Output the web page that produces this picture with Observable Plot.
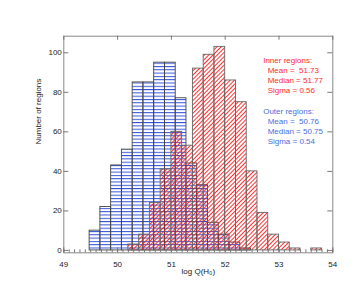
<!DOCTYPE html>
<html><head><meta charset="utf-8">
<script src="https://cdn.jsdelivr.net/npm/d3@7"></script>
<script src="https://cdn.jsdelivr.net/npm/@observablehq/plot@0.6"></script>
<style>
html,body{margin:0;padding:0;background:#fff;}
svg text{white-space:pre;}
</style></head><body><div id="chart"></div>
<script>
// ---- data ----
const binWidth = 0.2;
const outerStart = 49.48;   // first bin edge of the outer-region histogram
const innerStart = 50.2;    // first bin edge of the inner-region histogram
const outerCounts = [10, 22, 43, 51, 85, 85, 95, 95, 77, 44, 33, 14, 8, 4, 1];
const innerCounts = [3, 8, 24, 41, 60, 53, 92, 99, 103, 86, 75, 40, 19, 8, 4, 1, 0, 1];
const xTicks = [49, 50, 51, 52, 53, 54];
const xMinorTicks = d3.range(49, 54.001, 0.1).map(v => +v.toFixed(1));
const yTicks = [0, 20, 40, 60, 80, 100];
const xLabel = "log Q(H\u2080)";
const yLabel = "Number of regions";
const innerLines = ["Inner regions:", "  Mean =  51.73", "  Median = 51.77", "  Sigma = 0.56"];
const outerLines = ["Outer regions:", "  Mean =  50.76", "  Median = 50.75", "  Sigma = 0.54"];

const toBins = (start, counts) => counts.map((c, i) => ({
  x1: +(start + i * binWidth).toFixed(3),
  x2: +(start + (i + 1) * binWidth).toFixed(3),
  count: c
})).filter(d => d.count > 0);
const outer = toBins(outerStart, outerCounts);
const inner = toBins(innerStart, innerCounts);

const W = 360, H = 288, mL = 63.3, mR = 27.7, mT = 35.7, mB = 35.7;
const fw = W - mL - mR, fh = H - mT - mB;
const RED = "#ff2a2a", BLUE = "#4a6ee0", AX = "#777", TXT = "#222";

const plot = Plot.plot({
  width: W, height: H,
  marginLeft: mL, marginRight: mR, marginTop: mT, marginBottom: mB,
  style: {fontFamily: "'Liberation Sans', Arial, Helvetica, sans-serif", fontSize: "8px", background: "#fff", color: TXT},
  x: {domain: [49, 54]},
  y: {domain: [-1.2, 108.4]},
  marks: [
    Plot.rect(outer, {x1: "x1", x2: "x2", y1: () => 0, y2: "count", fill: "url(#hatchBlue)", stroke: "#444", strokeWidth: 0.9}),
    Plot.rect(inner, {x1: "x1", x2: "x2", y1: () => 0, y2: "count", fill: "url(#hatchRed)", stroke: "#666", strokeWidth: 0.9}),
    Plot.frame({stroke: "#888"}),
    Plot.tickX(xMinorTicks, {x: d => d, insetTop: fh - 3, stroke: AX}),
    Plot.tickX(xTicks, {x: d => d, insetTop: fh - 5, stroke: AX}),
    Plot.tickX(xTicks, {x: d => d, insetBottom: fh - 4, stroke: AX}),
    Plot.tickY(yTicks, {y: d => d, insetRight: fw - 5, stroke: AX}),
    Plot.tickY(yTicks, {y: d => d, insetLeft: fw - 5, stroke: AX}),
    Plot.axisX(xTicks, {tickSize: 0, tickPadding: 9, label: null, fill: TXT}),
    Plot.axisY(yTicks, {tickSize: 0, tickPadding: 2, label: null, fill: TXT}),
    Plot.text([xLabel], {frameAnchor: "bottom", dy: 21, fill: TXT}),
    Plot.text([yLabel], {frameAnchor: "left", rotate: -90, dx: -25, fill: TXT}),
    Plot.text([innerLines.join("\n")], {frameAnchor: "top-left", dx: 199.4, dy: 38.6, textAnchor: "start", lineAnchor: "middle", lineHeight: 1.25, fill: RED}),
    Plot.text([outerLines.join("\n")], {frameAnchor: "top-left", dx: 199.4, dy: 89.3, textAnchor: "start", lineAnchor: "middle", lineHeight: 1.25, fill: BLUE})
  ]
});

const ns = "http://www.w3.org/2000/svg";
const mk = (tag, attrs) => {
  const el = document.createElementNS(ns, tag);
  for (const k in attrs) el.setAttribute(k, attrs[k]);
  return el;
};
const defs = mk("defs", {});
const pb = mk("pattern", {id: "hatchBlue", patternUnits: "userSpaceOnUse", width: 6, height: 3.3});
pb.appendChild(mk("rect", {x: 0, y: 0, width: 6, height: 1, fill: "#3050d8"}));
const pr = mk("pattern", {id: "hatchRed", patternUnits: "userSpaceOnUse", width: 6, height: 3, patternTransform: "rotate(-45)"});
pr.appendChild(mk("rect", {x: 0, y: 0, width: 6, height: 0.9, fill: "#ff1a1a"}));
defs.appendChild(pb);
defs.appendChild(pr);
plot.insertBefore(defs, plot.firstChild);
document.getElementById("chart").appendChild(plot);
</script>
</body></html>
